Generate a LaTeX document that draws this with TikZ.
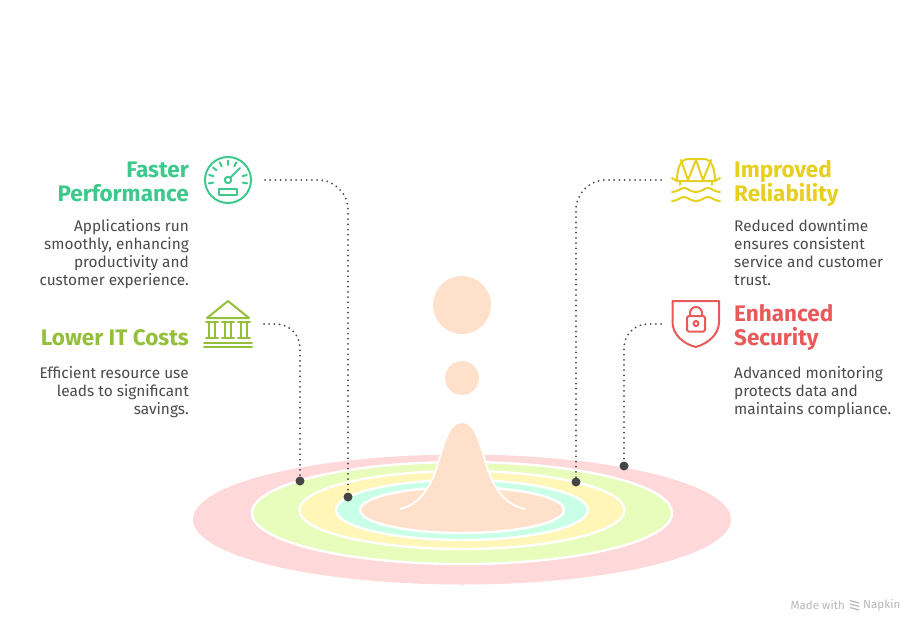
\documentclass[tikz,border=0pt]{standalone}
\usepackage{xcolor}
\usepackage{fontspec}
\setmainfont{Fira Sans}
\definecolor{perfgreen}{HTML}{3CC98B}
\definecolor{costgreen}{HTML}{93BF3A}
\definecolor{relyellow}{HTML}{E6CF1E}
\definecolor{secred}{HTML}{E85A5A}
\definecolor{textgray}{HTML}{4A4A4A}
\definecolor{dotgray}{HTML}{454545}
\definecolor{ringred}{HTML}{FFD9D9}
\definecolor{ringgreen}{HTML}{E8FDBB}
\definecolor{ringyellow}{HTML}{FFF6B8}
\definecolor{ringteal}{HTML}{C8FFE6}
\definecolor{peach}{HTML}{FFE1CB}

\begin{document}
\begin{tikzpicture}[x=1pt,y=-1pt,
  heading/.style={font=\fontsize{22.5}{24}\selectfont\bfseries,inner sep=0pt},
  body/.style={font=\fontsize{15.4}{18}\selectfont,text=textgray,inner sep=0pt},
  leader/.style={dotgray,line width=2pt,line cap=round,dash pattern=on 0pt off 5.2pt},
  pin/.style={circle,fill=dotgray,minimum size=9pt,inner sep=0pt},
  ring/.style={draw=white,line width=2.4pt},
  icon/.style={line width=2pt,line join=round,line cap=round}]
  \useasboundingbox (0,0) rectangle (924,634);

  \fill[ringred] (462,519.5) ellipse [x radius=269,y radius=65];
  \draw[ring,fill=ringgreen] (462,513) ellipse [x radius=210,y radius=51];
  \draw[ring,fill=ringyellow] (462,510) ellipse [x radius=162.5,y radius=39];
  \draw[ring,fill=ringteal] (462,510) ellipse [x radius=126,y radius=30];
  \draw[ring,fill=peach] (462,510) ellipse [x radius=102,y radius=23];

  \fill[peach] (400,509) .. controls (418,505) and (429,490) .. (436,470)
    .. controls (444,445) and (448,422) .. (462,422)
    .. controls (476,422) and (480,445) .. (488,470)
    .. controls (495,490) and (506,505) .. (525,509) -- cycle;
  \draw[white,line width=1.8pt] (400,509) .. controls (418,505) and (429,490) .. (436,470)
    .. controls (444,445) and (448,422) .. (462,422)
    .. controls (476,422) and (480,445) .. (488,470)
    .. controls (495,490) and (506,505) .. (525,509);
  \node[circle,fill=peach,minimum size=58pt,inner sep=0pt] (bigdrop) at (462,305) {};
  \node[circle,fill=peach,minimum size=34pt,inner sep=0pt] (smalldrop) at (462,378) {};

  \node[pin] (costpin) at (300,481) {};
  \node[pin] (perfpin) at (348,497) {};
  \node[pin] (relpin) at (576,482) {};
  \node[pin] (secpin) at (624,466) {};
  \coordinate (perfstart) at (265,180);
  \coordinate (coststart) at (264,324);
  \coordinate (relstart) at (661,180);
  \coordinate (secstart) at (661,324);
  \draw[leader,rounded corners=30pt] (perfstart) -| (perfpin);
  \draw[leader,rounded corners=24pt] (coststart) -| (costpin);
  \draw[leader,rounded corners=30pt] (relstart) -| (relpin);
  \draw[leader,rounded corners=24pt] (secstart) -| (secpin);

  \node[heading,text=perfgreen,align=right,anchor=north east] (perftitle) at (189,162) {Faster\\Performance};
  \node[body,align=right,anchor=north east] (perftext) at (189,219) {Applications run\\smoothly, enhancing\\productivity and\\customer experience.};
  \node[heading,text=costgreen,align=right,anchor=north east] (costtitle) at (189,329) {Lower IT Costs};
  \node[body,align=right,anchor=north east] (costtext) at (189,366) {Efficient resource use\\leads to significant\\savings.};
  \node[heading,text=relyellow,align=left,anchor=north west] (reltitle) at (734,160) {Improved\\Reliability};
  \node[body,align=left,anchor=north west] (reltext) at (734,219) {Reduced downtime\\ensures consistent\\service and customer\\trust.};
  \node[heading,text=secred,align=left,anchor=north west] (sectitle) at (734,304) {Enhanced\\Security};
  \node[body,align=left,anchor=north west] (sectext) at (734,366) {Advanced monitoring\\protects data and\\maintains compliance.};

  \draw[icon,perfgreen] (228,180) circle (23);
  \draw[icon,perfgreen] (228,180) circle (3.2);
  \draw[icon,perfgreen] (230.3,177.7) -- (240,168);
  \draw[icon,perfgreen] (219,189) rectangle (237,195);
  \foreach \a in {10,-15,-65,-90,-115,-140,-165,-190}
    \draw[icon,perfgreen] (228,180) ++(\a:15) -- ++(\a:4.5);

  \draw[icon,costgreen] (207,318) -- (228,301) -- (249,318) -- cycle;
  \foreach \c in {212,228,244} {
    \draw[icon,costgreen] (\c-6,322) -- (\c+6,322) (\c-6,338) -- (\c+6,338);
    \draw[icon,costgreen] (\c-3,322) -- (\c-3,338) (\c+3,322) -- (\c+3,338);
  }
  \draw[icon,costgreen] (204,343) -- (252,343) (204,347) -- (252,347);

  \draw[icon,relyellow] (677,180) .. controls (677,170) and (680,159) .. (688,159) -- (704,159)
    .. controls (712,159) and (715,170) .. (715,180);
  \draw[icon,relyellow] (672,178) -- (677,181) -- (715,181) -- (720,178);
  \draw[icon,relyellow] (681,160) -- (688,180) -- (696,160) -- (703,180) -- (711,160);
  \draw[icon,relyellow] (680,181) -- (680,185) (712,181) -- (712,185);
  \foreach \y in {190,199}
    \draw[icon,relyellow] (672,\y+2) .. controls (678,\y+2) and (680,\y-2) .. (684,\y-2)
      .. controls (688,\y-2) and (690,\y+2) .. (696,\y+2)
      .. controls (702,\y+2) and (704,\y-2) .. (708,\y-2)
      .. controls (712,\y-2) and (714,\y+2) .. (720,\y+2);

  \draw[icon,secred] (672.5,301) -- (719,301) -- (719,322)
    .. controls (719,335) and (707,344) .. (695.7,347)
    .. controls (684,344) and (672.5,335) .. (672.5,322) -- cycle;
  \draw[icon,secred,rounded corners=1.5pt] (687,316) rectangle (705,331.5);
  \draw[icon,secred] (690,316) -- (690,313) arc [start angle=-180,end angle=0,radius=6] -- (702,316);
  \draw[icon,secred] (696,323.5) circle (2.5);

  \node[font=\fontsize{11.6}{12}\selectfont,text=black!28,inner sep=0pt,anchor=east] (madewith) at (845,605) {Made with};
  \node[font=\fontsize{11.6}{12}\selectfont,text=black!28,inner sep=0pt,anchor=west] (napkin) at (863,605) {Napkin};
  \foreach \y in {600.5,604,607.5}
    \draw[black!28,line width=1.2pt] (850,\y) -- (859,\y+2.5);
\end{tikzpicture}
\end{document}
